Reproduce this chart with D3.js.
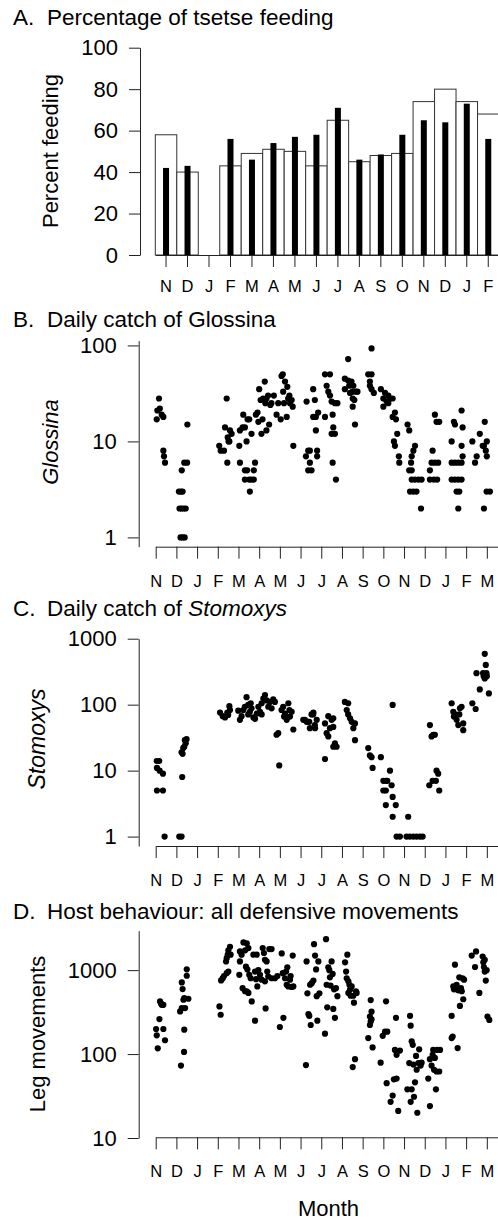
<!DOCTYPE html>
<html>
<head>
<meta charset="utf-8">
<script src="https://cdn.jsdelivr.net/npm/d3@7"></script>
<style>
body { margin: 0; background: #fff; }
svg text { font-family: "Liberation Sans", Arial, sans-serif; fill: #000; }
</style>
</head>
<body>
<div id="wrapper"></div>
<script>
// month letters along the x axes
const monthsA = ["N","D","J","F","M","A","M","J","J","A","S","O","N","D","J","F"];
const monthsLog = ["N","D","J","F","M","A","M","J","J","A","S","O","N","D","J","F","M"];

// A: percent feeding (open bars / solid bars), null = no data
const feedOpen  = [58, 40, null, 43, 49, 51, 50, 43, 65, 45, 48, 49, 74, 80, 74, 68];
const feedSolid = [42, 43, null, 56, 46, 54, 57, 58, 71, 46, 48.5, 58, 65, 64, 73, 56];

// B-D: [month position (0 = start of first Nov), daily count]
const glossina = [
  [0.05,17],[0.08,21],[0.16,28],[0.2,22],[0.29,19],[0.37,18],[0.37,8],[0.4,7],[0.45,6],
  [1.15,2],[1.25,2],[1.35,2],[1.45,2],[1.12,3],[1.22,3],[1.3,3],[1.2,1],[1.3,1],[1.4,1],
  [1.26,5],[1.38,6],[1.52,6],[1.53,15],
  [3.07,9],[3.14,8],[3.3,8],[3.35,14],[3.43,28],[3.48,11],[3.56,10],[3.59,13],[3.67,12],[3.46,6],[3.52,10],
  [4.04,9],[4.07,13],[4.2,14],[4.31,14],[4.23,19],[4.39,10],[4.44,17],[4.52,17],[4.07,6],[4.31,5],[4.42,5],
  [4.52,4],[4.63,4],[4.74,4],[4.31,4],[4.55,3],[4.74,5],[4.8,6],[4.63,12],[4.84,19],[4.92,20],
  [4.96,16],[5.0,35],[5.07,27],[5.11,12],[5.16,17],[5.19,28],[5.27,42],[5.35,28],[5.35,13],[5.43,30],
  [5.48,15],[5.54,24],[5.59,25],[5.71,30],[5.3,25],
  [5.84,19],[5.92,25],[6.04,17],[6.08,48],[6.14,50],[6.16,33],[6.2,25],[6.25,42],[6.33,18],[6.36,37],
  [6.46,30],[6.49,25],[6.57,27],[6.62,23],[6.65,9],[6.4,28],
  [7.29,26],[7.26,7],[7.37,8],[7.45,6],[7.37,5],[7.53,5],[7.61,35],[7.69,27],[7.61,18],[7.74,18],
  [7.74,13],[7.8,8],[7.8,7],[7.85,20],[7.45,8],
  [8.18,18],[8.18,50],[8.42,50],[8.26,38],[8.34,33],[8.42,30],[8.5,26],[8.66,25],[8.78,25],[8.55,19],
  [8.58,14],[8.66,12],[8.5,12],[8.55,6],[8.71,4],
  [9.3,72],[9.14,45],[9.3,43],[9.46,42],[9.14,35],[9.35,38],[9.55,38],[9.52,33],[9.39,32],[9.52,28],
  [9.6,27],[9.68,33],[9.75,33],[9.52,23],[9.63,15],
  [10.43,93],[10.27,50],[10.43,50],[10.35,42],[10.35,38],[10.43,35],[10.54,32],
  [10.88,35],[11.0,23],[11.0,28],[11.08,32],[11.24,30],[11.32,28],[11.45,28],[11.24,25],[11.16,26],
  [11.56,20],[11.45,18],[11.61,17],[11.67,12],[11.51,10],[11.56,9],[11.75,7],[11.77,6],
  [12.17,15],[12.25,13],[12.53,9],[12.45,8],[12.37,7],[12.34,6],[12.25,5],[12.37,5],[12.37,4],[12.53,4],
  [12.7,4],[12.85,4],[12.29,3],[12.45,3],[12.6,3],[12.82,2],
  [13.25,5],[13.38,8],[13.25,4],[13.44,4],[13.6,4],[13.33,6],[13.49,6],[13.65,6],[13.49,19],[13.57,16],[13.7,16],
  [14.3,10],[14.41,16],[14.46,15],[14.78,21],[14.83,14],[14.78,9],[14.83,7],[14.3,6],[14.46,6],[14.62,6],
  [14.78,6],[14.3,4],[14.46,4],[14.62,4],[14.78,4],[14.54,3],[14.67,3],[14.62,2],
  [15.3,10],[15.51,7],[15.43,6],[15.66,12],[15.8,9],[15.86,9],[15.95,8],[15.9,16],[16.0,7],[15.86,2],
  [15.99,3],[16.15,3],[16.0,10]
];

const stomoxys = [
  [0.05,14],[0.17,14],[0.06,11],[0.19,10],[0.35,9],[0.06,5],[0.35,5],[0.43,1],
  [1.14,1],[1.25,1],[1.28,8],[1.25,19],[1.33,22],[1.3,18],[1.41,29],[1.49,30],[1.38,23],[1.45,26],
  [3.11,76],[3.24,67],[3.35,64],[3.46,76],[3.56,95],[3.59,83],[3.5,70],
  [3.99,81],[4.07,59],[4.15,67],[4.23,83],[4.31,93],[4.39,130],[4.47,99],[4.55,78],[4.59,105],[4.63,88],
  [4.72,64],[4.8,61],[4.88,73],[4.47,71],
  [4.96,93],[5.04,78],[5.12,105],[5.2,124],[5.28,140],[5.36,116],[5.44,93],[5.52,110],[5.6,88],[5.68,120],
  [5.76,110],[5.12,71],
  [5.84,35],[5.92,37],[5.97,12],[6.08,83],[6.16,93],[6.25,73],[6.33,59],[6.41,105],[6.46,83],[6.57,78],
  [6.65,42],[6.49,66],[6.2,66],
  [7.13,59],[7.21,59],[7.29,55],[7.37,55],[7.42,55],[7.53,71],[7.62,76],[7.45,44],[7.7,44],[7.78,59],
  [7.61,71],[7.69,49],
  [8.18,15],[8.18,52],[8.26,37],[8.34,67],[8.42,44],[8.5,59],[8.58,62],[8.34,33],[8.58,46],[8.66,26],
  [8.74,23],[8.58,23],
  [9.14,110],[9.3,105],[9.23,83],[9.39,62],[9.47,55],[9.55,44],[9.63,29],[9.3,71],[9.63,52],
  [10.27,22],[10.35,17],[10.43,16],[10.48,11],[10.88,16],
  [11.32,10],[11.0,7],[11.12,7],[11.19,7],[11.0,5],[11.12,5],[11.4,6],[11.45,4],[11.12,3],[11.6,3],
  [11.45,2],[11.45,99],[11.64,1],[11.8,1],
  [12.2,2],[12.12,1],[12.28,1],[12.45,1],[12.61,1],[12.77,1],[12.9,1],
  [13.25,49],[13.33,33],[13.41,35],[13.49,35],[13.22,6],[13.38,7],[13.54,7],[13.57,10],[13.65,9],[13.7,5],
  [14.3,105],[14.38,78],[14.41,66],[14.46,71],[14.54,59],[14.62,49],[14.67,71],[14.7,88],[14.78,93],
  [14.86,52],[14.86,41],
  [15.3,105],[15.46,86],[15.66,170],[15.5,300],[15.9,590],[15.95,400],[15.82,300],[15.9,250],[15.98,300],
  [16.0,270],[15.85,270],[16.1,148]
];

const legMoves = [
  [0.05,167],[0.02,199],[0.1,117],[0.18,261],[0.21,424],[0.29,386],[0.34,386],[0.37,386],[0.37,199],
  [0.45,146],[0.26,400],
  [1.18,322],[1.22,73],[1.26,353],[1.3,594],[1.26,713],[1.34,444],[1.38,464],[1.42,353],[1.5,857],
  [1.5,1023],[1.58,456],[1.38,195],[1.37,106],
  [3.08,369],[3.14,294],[3.16,753],[3.24,803],[3.3,850],[3.4,1268],[3.43,1390],[3.48,1530],[3.51,1720],
  [3.59,1900],[3.62,1530],[3.43,920],[3.51,960],
  [4.07,1670],[4.07,1270],[4.04,880],[4.15,1530],[4.24,2140],[4.32,1720],[4.4,2080],[4.48,1830],[4.2,610],
  [4.32,560],[4.4,560],[4.48,535],[4.36,1100],[4.43,1020],[4.52,880],[4.59,800],[4.64,424],[4.72,1530],
  [4.8,960],[4.85,780],[4.91,640],[4.88,1530],[4.8,250],[4.96,1000],[5.04,880],[5.12,770],[5.17,1830],
  [5.23,1600],[5.28,1330],[5.31,350],[5.36,1270],[5.39,960],[5.28,735],[5.49,1780],[5.6,1780],[5.44,840],
  [5.6,800],[5.76,800],[5.88,850],
  [6.0,210],[6.09,1580],[6.14,920],[6.17,270],[6.25,800],[6.3,960],[6.33,670],[6.36,1080],[6.41,640],
  [6.49,770],[6.52,850],[6.57,630],[6.62,1490],[6.65,640],
  [7.26,74],[7.29,1270],[7.33,530],[7.38,300],[7.42,285],[7.46,670],[7.49,222],[7.54,700],[7.62,750],
  [7.65,2040],[7.7,1490],[7.75,1020],[7.78,490],[7.81,250],[7.86,1270],[7.91,530],
  [8.18,175],[8.23,2340],[8.26,670],[8.29,360],[8.34,1080],[8.39,1000],[8.42,820],[8.45,655],[8.5,1270],
  [8.55,900],[8.58,345],[8.62,590],[8.66,270],[8.71,610],[8.78,490],
  [9.15,1240],[9.2,960],[9.23,800],[9.26,1530],[9.31,735],[9.31,535],[9.36,670],[9.39,585],[9.42,495],
  [9.47,640],[9.52,70],[9.55,495],[9.58,410],[9.63,87],[9.68,560],[9.71,535],
  [10.27,155],[10.35,280],[10.39,440],[10.39,245],[10.43,320],[10.48,120],[10.35,222],[10.43,260],
  [10.87,79],[10.97,165],[11.08,185],[11.13,425],[11.19,185],[11.16,45],[11.35,27],[11.45,32],[11.51,50],
  [11.56,112],[11.61,270],[11.64,98],[11.64,51],[11.72,21],[11.8,110],
  [12.16,38],[12.25,78],[12.29,285],[12.32,218],[12.37,142],[12.32,27],[12.37,38],[12.42,129],[12.45,75],
  [12.48,31],[12.53,46],[12.58,95],[12.61,65],[12.64,20],[12.69,78],[12.73,114],[12.8,73],[12.85,79],
  [13.17,51],[13.25,24],[13.25,87],[13.33,73],[13.38,98],[13.41,112],[13.45,65],[13.49,90],[13.54,38],
  [13.57,62],[13.6,112],[13.7,62],[13.74,112],
  [14.3,285],[14.3,155],[14.35,162],[14.38,640],[14.41,590],[14.46,1160],[14.51,595],[14.54,670],
  [14.59,118],[14.62,575],[14.67,820],[14.7,375],[14.75,610],[14.79,560],[14.83,800],[14.86,450],[14.9,770],
  [15.27,1490],[15.48,1670],[15.43,1090],[15.64,535],[15.8,1450],[15.83,1240],[15.86,1090],[15.9,960],
  [15.95,750],[15.99,1000],[16.03,280],[16.12,255],[15.9,1330]
];

const svg = d3.select("#wrapper").append("svg")
    .attr("width", 498)
    .attr("height", 1220);

function addTitle(y, letter, plain, italic) {
    svg.append("text").attr("x", 13).attr("y", y)
        .style("font-size", "22.5px").text(letter);
    const t = svg.append("text").attr("x", 47).attr("y", y)
        .style("font-size", "22.5px").style("white-space", "pre");
    t.append("tspan").text(plain);
    if (italic) t.append("tspan").style("font-style", "italic").text(italic);
}

function yTitle(x, y, label, italic, size) {
    svg.append("text")
        .attr("transform", `translate(${x},${y}) rotate(-90)`)
        .attr("text-anchor", "middle")
        .style("font-size", size || "22px")
        .style("font-style", italic ? "italic" : "normal")
        .text(label);
}

function styleAxis(g, size) {
    g.selectAll("path, line").attr("stroke", "#222").attr("stroke-width", 1);
    g.selectAll("text").style("font-size", size).attr("fill", "#000");
}

// ---------- A: bars ----------
addTitle(25, "A.", "Percentage of tsetse feeding");

const xA = d3.scaleBand().domain(d3.range(monthsA.length)).range([155.3, 499]).padding(0);
const yA = d3.scaleLinear().domain([0, 100]).range([255, 47.7]);

svg.append("g").selectAll("rect")
    .data(feedOpen.map((v, i) => ({v, i})).filter(d => d.v !== null))
    .join("rect")
    .attr("x", d => xA(d.i))
    .attr("width", xA.bandwidth())
    .attr("y", d => yA(d.v))
    .attr("height", d => yA(0) - yA(d.v))
    .attr("fill", "#fff")
    .attr("stroke", "#333")
    .attr("stroke-width", 1);

svg.append("g").selectAll("rect")
    .data(feedSolid.map((v, i) => ({v, i})).filter(d => d.v !== null))
    .join("rect")
    .attr("x", d => xA(d.i) + xA.bandwidth() / 2 - 3)
    .attr("width", 6)
    .attr("y", d => yA(d.v))
    .attr("height", d => yA(0) - yA(d.v))
    .attr("fill", "#000");

const yAxisA = svg.append("g")
    .attr("transform", "translate(140,0)")
    .call(d3.axisLeft(yA).tickValues([0, 20, 40, 60, 80, 100]).tickSize(11).tickPadding(11).tickSizeOuter(0));
styleAxis(yAxisA, "22px");

const xAxisA = svg.append("g")
    .attr("transform", "translate(0,255)")
    .call(d3.axisBottom(xA).tickSize(12).tickSizeOuter(0).tickFormat(i => monthsA[i]));
styleAxis(xAxisA, "16.5px");
xAxisA.selectAll("text").attr("y", 37).attr("dy", null);

yTitle(58, 151, "Percent feeding", false);

// ---------- B-D: daily log scatter ----------
const xMonth = d3.scaleLinear().domain([0, 16.54]).range([155.7, 498]);

function logPanel(data, yScale, ticks, axisY) {
    svg.append("g").selectAll("circle")
        .data(data)
        .join("circle")
        .attr("cx", d => xMonth(d[0]))
        .attr("cy", d => yScale(d[1]))
        .attr("r", 3.1)
        .attr("fill", "#000");

    const ya = svg.append("g")
        .attr("transform", "translate(138.7,0)")
        .call(d3.axisLeft(yScale).tickValues(ticks).tickFormat(d3.format("d"))
            .tickSize(11).tickPadding(11).tickSizeOuter(0));
    styleAxis(ya, "22px");

    const xa = svg.append("g")
        .attr("transform", `translate(0,${axisY})`)
        .call(d3.axisBottom(xMonth).tickValues(d3.range(monthsLog.length))
            .tickFormat(i => monthsLog[i]).tickSize(12).tickSizeOuter(0));
    styleAxis(xa, "16.5px");
    xa.selectAll("text").attr("y", 40).attr("dy", null);
}

addTitle(327.3, "B.", "Daily catch of Glossina");
const yB = d3.scaleLog().domain([0.8, 112]).range([546.7, 340.7]);
logPanel(glossina, yB, [1, 10, 100], 546.7);
yTitle(58, 442, "Glossina", true);

addTitle(616, "C.", "Daily catch of ", "Stomoxys");
const yC = d3.scaleLog().domain([0.72, 1000]).range([846, 638.7]);
logPanel(stomoxys, yC, [1, 10, 100, 1000], 846);
yTitle(45, 739, "Stomoxys", true, "23px");

addTitle(919.3, "D.", "Host behaviour: all defensive movements");
const yD = d3.scaleLog().domain([10, 2950]).range([1138, 930.7]);
logPanel(legMoves, yD, [10, 100, 1000], 1137.3);
yTitle(45, 1034, "Leg movements", false);

svg.append("text")
    .attr("x", 328.5).attr("y", 1216)
    .attr("text-anchor", "middle")
    .style("font-size", "22px")
    .text("Month");
</script>
</body>
</html>
